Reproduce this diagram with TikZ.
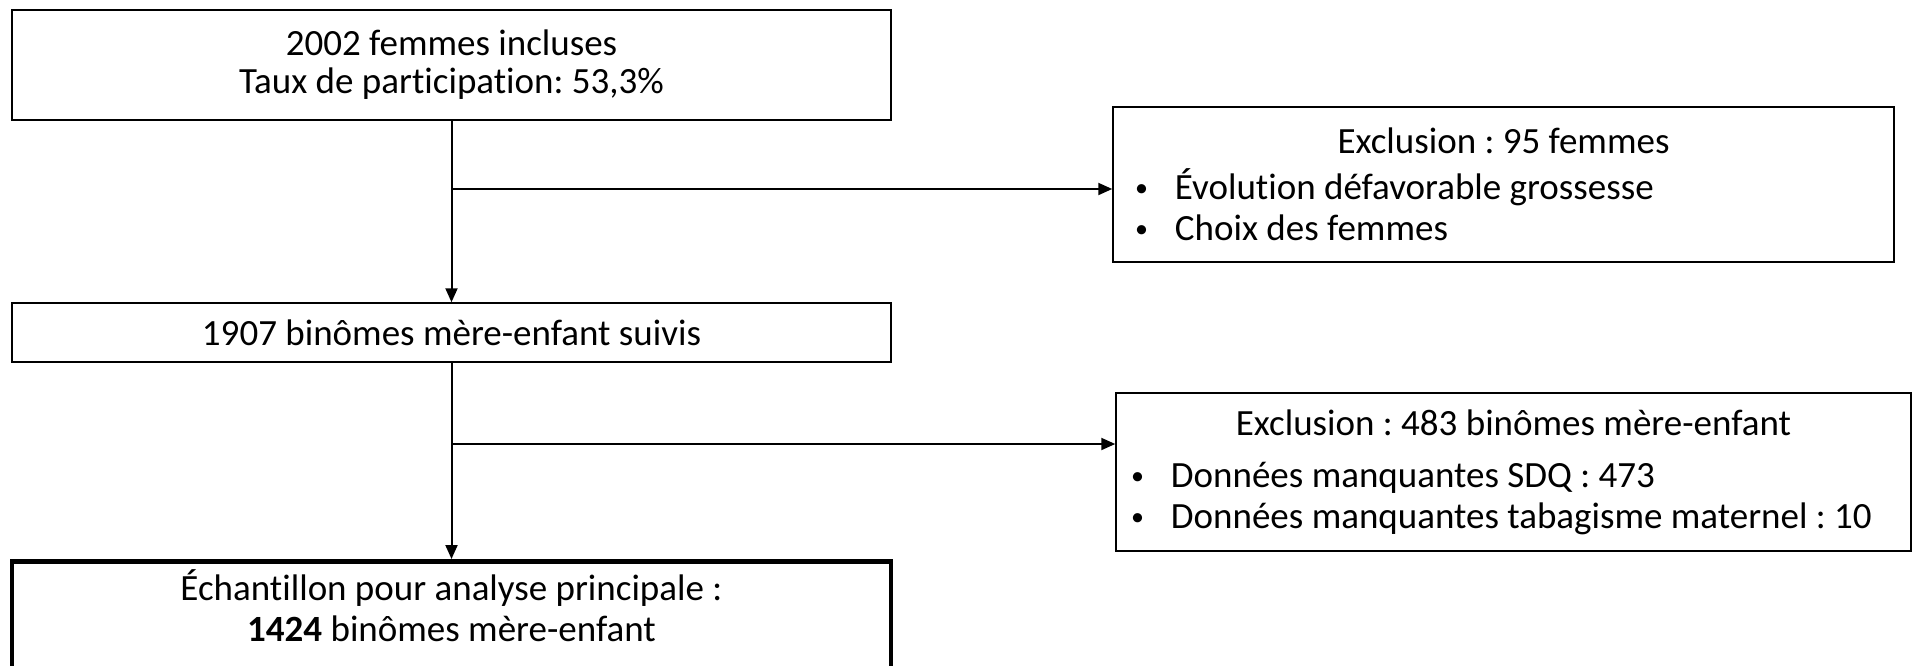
\documentclass[tikz,border=0pt]{standalone}
\usepackage{fontspec}
\setmainfont{Carlito}[Ligatures=NoCommon]
\usetikzlibrary{arrows.meta}
\frenchspacing
\newcommand{\puce}{\raisebox{3pt}{\fontsize{26}{26}\selectfont\textbullet}\hspace{27pt}}

\begin{document}
\begin{tikzpicture}[x=1pt, y=-1pt,
    flowbox/.style={rectangle, draw=black, line width=1.5pt, fill=white,
        align=center, inner sep=0pt, font=\fontsize{37}{38}\selectfont},
    mainbox/.style={flowbox, line width=4.5pt},
    exclbox/.style={rectangle, draw=black, line width=1.5pt, fill=white,
        align=flush left, inner ysep=0pt, font=\fontsize{37}{41}\selectfont},
    flow/.style={line width=2pt, -{Triangle[length=14pt, width=12pt]}}
]
    \useasboundingbox (0,0) rectangle (1913,666);
    \node[flowbox, minimum width=879, minimum height=110] (incl) at (451.5,65)
        {2002 femmes incluses\\Taux de participation: 53,3\%};
    \node[exclbox, text width=737, inner xsep=22, minimum height=155] (excl1) at (1503.5,184.5)
        {\makebox[\linewidth]{Exclusion : 95 femmes}\\[5pt]
         \puce Évolution défavorable grossesse\\
         \puce Choix des femmes};
    \node[flowbox, minimum width=879, minimum height=59] (suivis) at (451.5,332.5)
        {1907 binômes mère-enfant suivis};
    \node[exclbox, text width=765, inner xsep=15, minimum height=158] (excl2) at (1513.5,472)
        {\makebox[\linewidth]{Exclusion : 483 binômes mère-enfant}\\[11pt]
         \puce Données manquantes SDQ : 473\\
         \puce Données manquantes tabagisme maternel : 10};
    % bottom edge runs past the page
    \node[mainbox, anchor=north, minimum width=879, minimum height=130] (echant) at (451.5,559) {};
    \node[font=\fontsize{37}{41}\selectfont, align=center] (echanttxt) at (451.5,606)
        {Échantillon pour analyse principale :\\\textbf{1424} binômes mère-enfant};
    \coordinate (br1) at (451.5,189);
    \coordinate (br2) at (451.5,444);
    \draw[flow] (incl) -- (suivis);
    \draw[flow] (br1) -- (br1 -| excl1.west);
    \draw[flow] (suivis) -- (echant);
    \draw[flow] (br2) -- (br2 -| excl2.west);
\end{tikzpicture}
\end{document}
